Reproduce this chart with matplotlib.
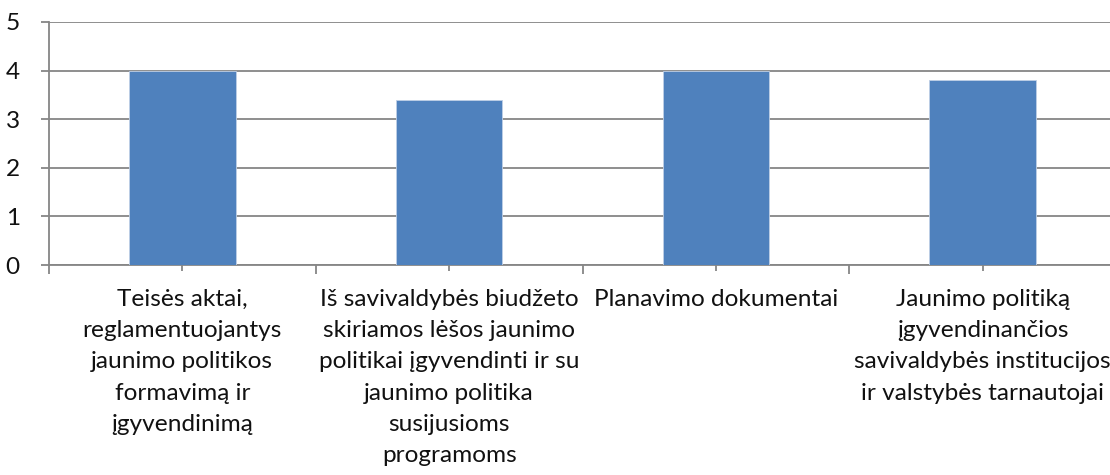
import matplotlib
matplotlib.use("Agg")
import matplotlib.pyplot as plt
from matplotlib.ticker import FixedLocator

# data
categories = [
    "Teisės aktai,\nreglamentuojantys\njaunimo politikos\nformavimą ir\nįgyvendinimą",
    "Iš savivaldybės biudžeto\nskiriamos lėšos jaunimo\npolitikai įgyvendinti ir su\njaunimo politika\nsusijusioms\nprogramoms",
    "Planavimo dokumentai",
    "Jaunimo politiką\nįgyvendinančios\nsavivaldybės institucijos\nir valstybės tarnautojai",
]
values = [4, 3.4, 4, 3.8]
y_ticks = [0, 1, 2, 3, 4, 5]

BAR = "#4F81BD"
GRID = "#868686"

plt.rcParams["font.family"] = ["Lato", "DejaVu Sans"]

fig = plt.figure(figsize=(11.1, 4.75), dpi=100)
ax = fig.add_axes([49 / 1110, 1 - 265 / 475, 1067 / 1110, 243 / 475])

x = list(range(len(values)))
ax.bar(x, values, width=0.4, color=BAR, edgecolor="#BFCFE6", linewidth=0.6, zorder=3)

ax.set_xlim(-0.5, len(values) - 0.5)
ax.set_ylim(0, 5)
ax.set_yticks(y_ticks)
ax.yaxis.grid(True, color=GRID, linewidth=1.3, zorder=0)
ax.set_axisbelow(True)

for s in ("top", "right"):
    ax.spines[s].set_visible(False)
for s in ("left", "bottom"):
    ax.spines[s].set_color(GRID)
    ax.spines[s].set_linewidth(1.3)

# centre ticks carry the labels, boundary ticks are longer
ax.set_xticks(x)
ax.set_xticklabels(categories, fontsize=17.6, linespacing=1.6, va="top", color="#111111")
ax.xaxis.set_minor_locator(FixedLocator([i - 0.5 for i in range(len(values) + 1)]))
ax.tick_params(axis="x", which="major", length=4.3, width=1.3, color=GRID, pad=13)
ax.tick_params(axis="x", which="minor", length=6.5, width=1.3, color=GRID)
ax.tick_params(axis="y", length=6, width=1.3, color=GRID, labelsize=17.6, pad=15,
               labelcolor="#111111")

fig.savefig("out.png", dpi=100)
